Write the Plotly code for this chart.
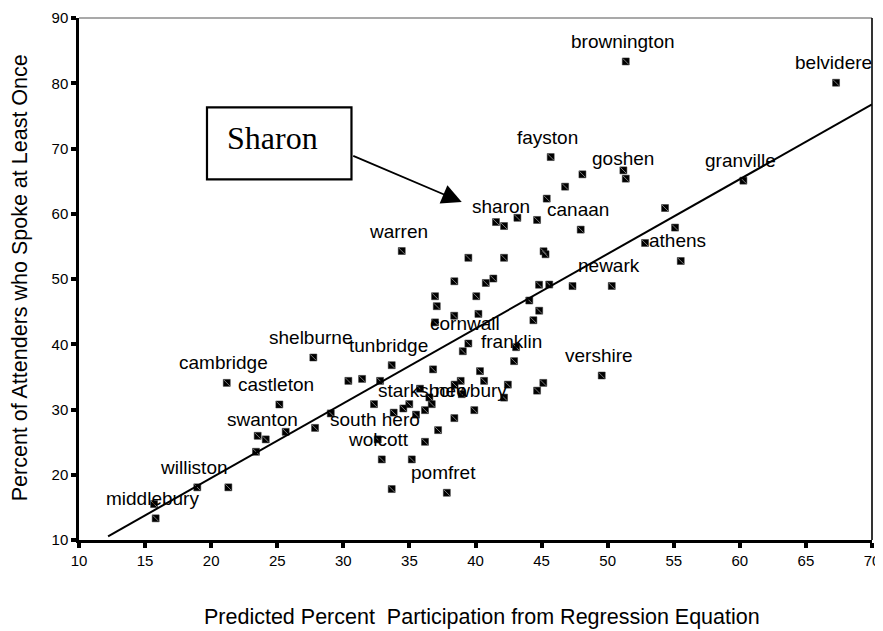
import plotly.graph_objects as go

# ---------------- data ----------------
x_pred = [51.37, 67.28, 51.19, 51.37, 48.09, 46.78, 60.27, 54.34, 55.10, 47.96,
          52.83, 55.53, 47.34, 50.31, 49.55, 45.69, 45.39, 41.55, 42.16, 43.17,
          44.66, 34.42, 39.46, 42.16, 45.15, 45.30, 38.40, 40.78, 41.35, 44.81,
          45.58, 36.94, 40.06, 44.07, 44.82, 44.38, 37.07, 38.39, 40.22, 36.94,
          39.46, 39.04, 43.07, 42.92, 40.34, 40.65, 38.88, 38.42, 42.45, 42.16,
          45.13, 44.66, 27.73, 33.66, 30.38, 31.42, 32.78, 36.79, 35.80, 36.51,
          36.69, 36.18, 35.50, 34.99, 34.54, 33.81, 32.32, 39.91, 38.96, 38.40,
          37.17, 36.18, 32.60, 32.91, 35.18, 33.66, 37.83, 29.05, 27.86, 21.18,
          25.16, 25.64, 23.52, 24.13, 23.39, 18.95, 21.30, 15.68, 15.80]

y_spoke = [83.34, 80.08, 66.65, 65.38, 66.04, 64.15, 65.07, 60.88, 57.88, 57.57,
           55.52, 52.76, 48.92, 48.93, 35.21, 68.69, 62.32, 58.73, 58.12, 59.38,
           59.05, 54.29, 53.25, 53.25, 54.25, 53.79, 49.65, 49.39, 50.07, 49.12,
           49.15, 47.36, 47.36, 46.70, 45.14, 43.68, 45.83, 44.37, 44.65, 43.35,
           40.11, 38.93, 39.55, 37.41, 35.88, 34.39, 34.39, 33.81, 33.81, 31.82,
           34.08, 32.89, 37.97, 36.79, 34.39, 34.69, 34.39, 36.15, 33.19, 31.85,
           30.82, 29.90, 29.21, 30.82, 30.16, 29.52, 30.82, 29.90, 32.35, 28.68,
           26.84, 25.05, 25.42, 22.35, 22.35, 17.81, 17.24, 29.40, 27.18, 34.08,
           30.77, 26.58, 25.97, 25.42, 23.52, 18.07, 18.07, 15.51, 13.32]

town = ["brownington", "belvidere", "", "goshen", "", "", "granville", "", "", "canaan",
        "", "athens", "", "newark", "vershire", "fayston", "", "", "sharon", "",
        "", "warren", "", "", "", "", "", "", "", "",
        "", "", "", "", "", "", "", "", "", "",
        "cornwall", "", "", "franklin", "", "", "", "", "", "",
        "", "", "shelburne", "tunbridge", "", "", "", "", "", "",
        "", "starksboro", "", "", "", "", "", "newbury", "", "",
        "", "", "south hero", "wolcott", "", "", "pomfret", "", "", "cambridge",
        "castleton", "", "", "swanton", "", "williston", "", "", "middlebury"]

# regression equation line
reg_intercept = -3.4
reg_slope = 1.145
reg_x = [12.2, 70.0]
reg_y = [reg_intercept + reg_slope * v for v in reg_x]

x_ticks = [10, 15, 20, 25, 30, 35, 40, 45, 50, 55, 60, 65, 70]
y_ticks = [10, 20, 30, 40, 50, 60, 70, 80, 90]

x_title = "Predicted Percent  Participation from Regression Equation"
y_title = "Percent of Attenders who Spoke at Least Once"
callout = "Sharon"

# ---------------- figure ----------------
SANS = "Liberation Sans, Arial, sans-serif"
SERIF = "Liberation Serif, Times New Roman, serif"

fig = go.Figure()

fig.add_trace(go.Scatter(
    x=x_pred, y=y_spoke, mode="markers",
    marker=dict(symbol="square", size=7, color="black",
                line=dict(color="#333333", width=0.5)),
    hoverinfo="skip", showlegend=False))
# faint diagonal stripe inside each square marker
fig.add_trace(go.Scatter(
    x=x_pred, y=y_spoke, mode="markers",
    marker=dict(symbol="line-nw", size=6,
                line=dict(color="#7a7a7a", width=1)),
    hoverinfo="skip", showlegend=False))

fig.add_trace(go.Scatter(
    x=reg_x, y=reg_y, mode="lines",
    line=dict(color="black", width=2),
    hoverinfo="skip", showlegend=False))

annotations = []
for xv, yv, name in zip(x_pred, y_spoke, town):
    if name:
        annotations.append(dict(
            x=xv, y=yv, xref="x", yref="y", text=name, showarrow=False,
            xanchor="center", yanchor="middle",
            xshift=-3, yshift=20, font=dict(family=SANS, size=19, color="black")))

# callout text + arrow
annotations.append(dict(
    xref="paper", yref="paper", x=0.244, y=0.7695, text=callout,
    xanchor="center", yanchor="middle",
    showarrow=False, font=dict(family=SERIF, size=32, color="black")))
annotations.append(dict(
    x=38.96, y=61.8, xref="x", yref="y", text="", showarrow=True,
    ax=-110, ay=-46.7, arrowhead=2, arrowsize=2.2, arrowwidth=1.8,
    arrowcolor="black"))

# axis titles
annotations.append(dict(
    xref="paper", yref="paper", x=0.508, y=-0.147, text=x_title,
    xanchor="center", yanchor="middle",
    showarrow=False, font=dict(family=SANS, size=21.5, color="black")))
annotations.append(dict(
    xref="paper", yref="paper", x=-0.0744, y=0.5014, text=y_title,
    xanchor="center", yanchor="middle",
    textangle=-90, showarrow=False, font=dict(family=SANS, size=21.5, color="black")))

shapes = [
    # callout box
    dict(type="rect", xref="paper", yref="paper",
         x0=0.1614, x1=0.3436, y0=0.6909, y1=0.8287,
         line=dict(color="black", width=2.2), fillcolor="rgba(0,0,0,0)"),
    # top frame line (grey, thin)
    dict(type="line", xref="paper", yref="paper", x0=0, x1=1, y0=1, y1=1,
         line=dict(color="#555555", width=1.2)),
    # right frame line
    dict(type="line", xref="paper", yref="paper", x0=1, x1=1, y0=0, y1=1,
         line=dict(color="black", width=1.6)),
]

# the page body adds an 8px offset, so the figure is 8px smaller and margins compensate
fig.update_layout(
    width=875, height=623,
    margin=dict(l=71, r=11, t=9.5, b=91, autoexpand=False),
    paper_bgcolor="white", plot_bgcolor="white",
    showlegend=False,
    annotations=annotations, shapes=shapes,
    xaxis=dict(range=[10, 70], tickvals=x_ticks, showgrid=False, zeroline=False,
               automargin=False,
               showline=True, linecolor="black", linewidth=2.5,
               ticks="outside", ticklen=5, tickwidth=3.5, tickcolor="black",
               tickfont=dict(family=SANS, size=15, color="black")),
    yaxis=dict(range=[10, 90], tickvals=y_ticks, showgrid=False, zeroline=False,
               automargin=False,
               showline=True, linecolor="black", linewidth=2.5,
               ticks="outside", ticklen=5, tickwidth=3.5, tickcolor="black",
               tickfont=dict(family=SANS, size=15, color="black")),
)

fig.write_html("out.html")
